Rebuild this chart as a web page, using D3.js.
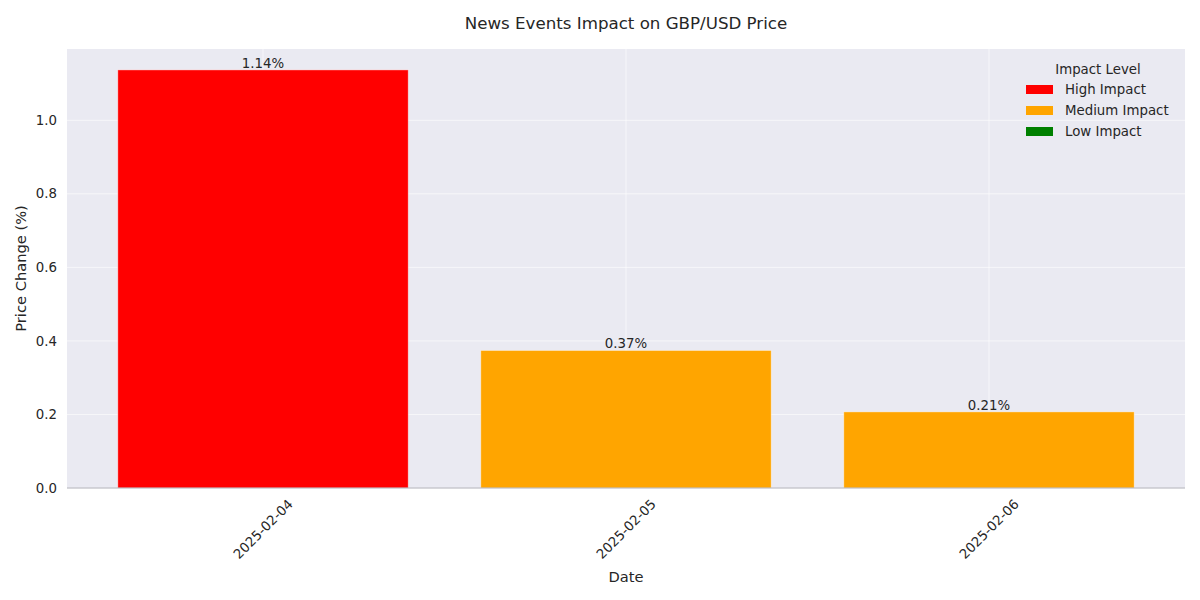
<!DOCTYPE html>
<html>
<head>
<meta charset="utf-8">
<script src="https://cdn.jsdelivr.net/npm/d3@7"></script>
<style>
    body { margin: 0; background: #fff; }
    svg { font-family: "DejaVu Sans", sans-serif; }
</style>
</head>
<body>
<svg id="chart" width="1200" height="600"></svg>
<script>
(function() {
    'use strict';

    // Data
    const dates = ['2025-02-04', '2025-02-05', '2025-02-06'];
    const priceChange = [1.137, 0.374, 0.207];
    const impactLevels = ['High', 'Medium', 'Medium'];
    const yTicks = [0.0, 0.2, 0.4, 0.6, 0.8, 1.0];
    const legendLabels = ['High Impact', 'Medium Impact', 'Low Impact'];
    const legendKeys = ['High', 'Medium', 'Low'];

    const colors = { High: '#ff0000', Medium: '#ffa500', Low: '#008000' };
    const fs = 13.33;

    const margin = { left: 67, right: 15, top: 49, bottom: 112 };
    const width = 1200, height = 600;
    const plotW = width - margin.left - margin.right;
    const plotH = height - margin.top - margin.bottom;

    const svg = d3.select('#chart');
    const g = svg.append('g').attr('transform', `translate(${margin.left},${margin.top})`);

    // Scales (matplotlib-like margins)
    const x = d3.scaleLinear().domain([-0.54, dates.length - 1 + 0.54]).range([0, plotW]);
    const yMax = d3.max(priceChange) * 1.05;
    const y = d3.scaleLinear().domain([0, yMax]).range([plotH, 0]);
    const barW = 0.8;

    // Background
    g.append('rect')
        .attr('width', plotW).attr('height', plotH)
        .attr('fill', '#eaeaf2');

    // Grid
    g.append('g').selectAll('line.h')
        .data(yTicks)
        .join('line')
        .attr('x1', 0).attr('x2', plotW)
        .attr('y1', d => y(d)).attr('y2', d => y(d))
        .attr('stroke', '#ffffff').attr('stroke-opacity', 0.6).attr('stroke-width', 1);

    g.append('g').selectAll('line.v')
        .data(dates.map((d, i) => i))
        .join('line')
        .attr('x1', d => x(d)).attr('x2', d => x(d))
        .attr('y1', 0).attr('y2', plotH)
        .attr('stroke', '#ffffff').attr('stroke-opacity', 0.6).attr('stroke-width', 1);

    // Bars
    g.append('g').selectAll('rect')
        .data(priceChange)
        .join('rect')
        .attr('x', (d, i) => x(i - barW / 2))
        .attr('y', d => y(d))
        .attr('width', (d, i) => x(i + barW / 2) - x(i - barW / 2))
        .attr('height', d => plotH - y(d))
        .attr('fill', (d, i) => colors[impactLevels[i]])
        .attr('stroke', '#ffffff')
        .attr('stroke-opacity', 0.5)
        .attr('stroke-width', 0.8);

    // Bar labels
    g.append('g').selectAll('text')
        .data(priceChange)
        .join('text')
        .attr('x', (d, i) => x(i))
        .attr('y', d => y(d) - 2)
        .attr('text-anchor', 'middle')
        .attr('font-size', fs)
        .attr('fill', '#262626')
        .text(d => d.toFixed(2) + '%');

    // Bottom spine
    g.append('line')
        .attr('x1', 0).attr('x2', plotW)
        .attr('y1', plotH).attr('y2', plotH)
        .attr('stroke', '#b0b0b8').attr('stroke-width', 1);

    // Y tick labels
    g.append('g').selectAll('text')
        .data(yTicks)
        .join('text')
        .attr('x', -10)
        .attr('y', d => y(d))
        .attr('dy', '0.35em')
        .attr('text-anchor', 'end')
        .attr('font-size', fs)
        .attr('fill', '#262626')
        .text(d => d.toFixed(1));

    // X tick labels, rotated 45
    g.append('g').selectAll('text')
        .data(dates)
        .join('text')
        .attr('transform', (d, i) => `translate(${x(i)},${plotH + 41}) rotate(-45)`)
        .attr('text-anchor', 'middle')
        .attr('dy', '0.35em')
        .attr('font-size', fs)
        .attr('fill', '#262626')
        .text(d => d);

    // Axis labels
    svg.append('text')
        .attr('x', margin.left + x(1))
        .attr('y', 582)
        .attr('text-anchor', 'middle')
        .attr('font-size', 14.67)
        .attr('fill', '#262626')
        .text('Date');

    svg.append('text')
        .attr('transform', `translate(26,${margin.top + plotH / 2}) rotate(-90)`)
        .attr('text-anchor', 'middle')
        .attr('font-size', 14.67)
        .attr('fill', '#262626')
        .text('Price Change (%)');

    // Title
    svg.append('text')
        .attr('x', margin.left + x(1))
        .attr('y', 29)
        .attr('text-anchor', 'middle')
        .attr('font-size', 16.67)
        .attr('fill', '#262626')
        .text('News Events Impact on GBP/USD Price');

    // Legend
    const legend = svg.append('g').attr('transform', 'translate(1018,55)');
    legend.append('text')
        .attr('x', 80).attr('y', 19)
        .attr('text-anchor', 'middle')
        .attr('font-size', fs)
        .attr('fill', '#262626')
        .text('Impact Level');

    const items = legend.selectAll('g.item')
        .data(legendKeys)
        .join('g')
        .attr('transform', (d, i) => `translate(0,${34 + i * 21})`);

    items.append('rect')
        .attr('x', 8).attr('y', -4)
        .attr('width', 27).attr('height', 9)
        .attr('fill', d => colors[d]);

    items.append('text')
        .attr('x', 47).attr('y', 0)
        .attr('dy', '0.35em')
        .attr('font-size', fs)
        .attr('fill', '#262626')
        .text((d, i) => legendLabels[i]);
})();
</script>
</body>
</html>
